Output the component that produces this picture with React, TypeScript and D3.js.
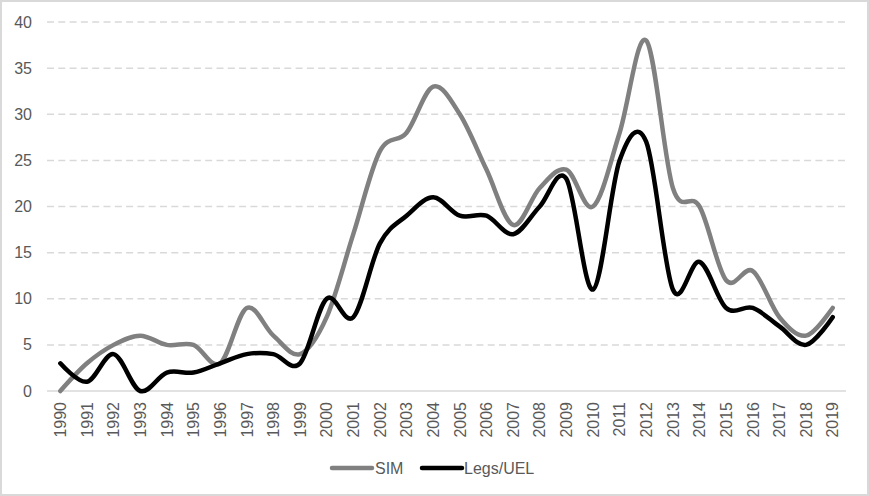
import * as d3 from "d3";

const years = d3.range(1990, 2020).map(String);
const simValues = [0, 3, 5, 6, 5, 5, 3, 9, 6, 4, 8, 17, 26, 28, 33, 30, 24, 18, 22, 24, 20, 28, 38, 22, 20, 12, 13, 8, 6, 9];
const legsValues = [3, 1, 4, 0, 2, 2, 3, 4, 4, 3, 10, 8, 16, 19, 21, 19, 19, 17, 20, 23, 11, 25, 27, 11, 14, 9, 9, 7, 5, 8];
const yTicks = [0, 5, 10, 15, 20, 25, 30, 35, 40];
const seriesNames = ["SIM", "Legs/UEL"];
const seriesColors = ["#808080", "#000000"];

const W = 869;
const H = 496;
const font = "Arial, 'Liberation Sans', sans-serif";
const textColor = "#595959";

const App = () => {
  const x = d3.scaleBand().domain(years).range([47, 846]);
  const y = d3.scaleLinear().domain([0, 40]).range([391, 22]);
  const cx = (yr: string) => (x(yr) ?? 0) + x.bandwidth() / 2;

  // excel-like smoothed line
  const line = d3
    .line<number>()
    .x((_, i) => cx(years[i]))
    .y((d) => y(d))
    .curve(d3.curveCardinal.tension(0));

  const series = [simValues, legsValues];

  return (
    <div style={{ position: "absolute", left: 0, top: 0 }}>
      <svg width={W} height={H} style={{ display: "block", fontFamily: font }}>
        <rect x={0} y={0} width={W} height={H} fill="#fff" />
        <rect x={1} y={1} width={W - 2} height={H - 2} fill="none" stroke="#d9d9d9" strokeWidth={2} />

        {/* gridlines */}
        {yTicks
          .filter((t) => t > 0)
          .map((t) => (
            <line
              key={t}
              x1={47}
              x2={846}
              y1={y(t)}
              y2={y(t)}
              stroke="#d9d9d9"
              strokeWidth={1.5}
              strokeDasharray="7,4.3"
            />
          ))}
        <line x1={47} x2={846} y1={y(0)} y2={y(0)} stroke="#d9d9d9" strokeWidth={1.5} />

        {/* y labels */}
        {yTicks.map((t) => (
          <text key={t} x={32} y={y(t)} dy="0.35em" textAnchor="end" fontSize={16} fill={textColor}>
            {t}
          </text>
        ))}

        {/* x labels */}
        {years.map((yr) => (
          <text
            key={yr}
            transform={`translate(${cx(yr)},402) rotate(-90)`}
            dy="0.36em"
            textAnchor="end"
            fontSize={16}
            fill={textColor}
          >
            {yr}
          </text>
        ))}

        {series.map((s, i) => (
          <path
            key={seriesNames[i]}
            d={line(s) ?? ""}
            fill="none"
            stroke={seriesColors[i]}
            strokeWidth={4.5}
            strokeLinecap="round"
            strokeLinejoin="round"
          />
        ))}

        {/* legend */}
        <g>
          <line x1={332} x2={372} y1={468} y2={468} stroke={seriesColors[0]} strokeWidth={4.5} strokeLinecap="round" />
          <text x={375} y={468} dy="0.35em" fontSize={16} fill={textColor}>
            {seriesNames[0]}
          </text>
          <line x1={422} x2={462} y1={468} y2={468} stroke={seriesColors[1]} strokeWidth={4.5} strokeLinecap="round" />
          <text x={464} y={468} dy="0.35em" fontSize={16} fill={textColor}>
            {seriesNames[1]}
          </text>
        </g>
      </svg>
    </div>
  );
};

export default App;
